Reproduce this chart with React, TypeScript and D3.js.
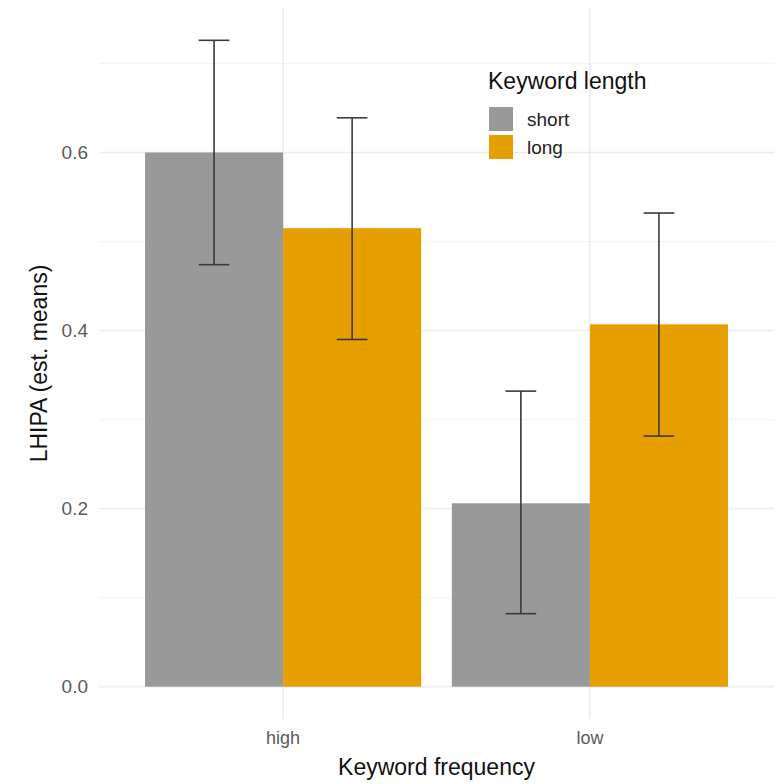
import React from "react";
import * as d3 from "d3";

const frequencies = ["high", "low"];
const lengths = ["short", "long"];
const meanShort = [0.6, 0.206];
const meanLong = [0.515, 0.407];
const lowerShort = [0.474, 0.082];
const upperShort = [0.726, 0.332];
const lowerLong = [0.39, 0.2815];
const upperLong = [0.639, 0.532];
const yTicks = [0.0, 0.2, 0.4, 0.6];
const yMinor = [0.1, 0.3, 0.5, 0.7];
const colors = ["#999999", "#E69F00"];

const W = 782;
const H = 784;
const panel = { left: 99, right: 774, top: 8, bottom: 719 };

export default function App() {
  const yMax = d3.max([...upperShort, ...upperLong]) as number;
  const expand = yMax * 0.05;
  const y = d3
    .scaleLinear()
    .domain([-expand, yMax + expand])
    .range([panel.bottom, panel.top]);

  const x = d3
    .scalePoint<string>()
    .domain(frequencies)
    .range([panel.left, panel.right])
    .padding(0.6);
  const unit = x.step();
  const barW = 0.45 * unit;
  const capW = 0.1 * unit;

  const series = lengths.map((len, si) => ({
    len,
    color: colors[si],
    means: si === 0 ? meanShort : meanLong,
    lower: si === 0 ? lowerShort : lowerLong,
    upper: si === 0 ? upperShort : upperLong,
    offset: si === 0 ? -barW : 0,
  }));

  const font = "Liberation Sans, Arial, Helvetica, sans-serif";

  return (
    <svg
      width={W}
      height={H}
      style={{ position: "absolute", left: 0, top: 0, background: "#fff" }}
      fontFamily={font}
    >
      {yMinor.map((t) => (
        <line
          key={"mi" + t}
          x1={panel.left}
          x2={panel.right}
          y1={y(t)}
          y2={y(t)}
          stroke="#f2f2f2"
          strokeWidth={1}
        />
      ))}
      {yTicks.map((t) => (
        <line
          key={"ma" + t}
          x1={panel.left}
          x2={panel.right}
          y1={y(t)}
          y2={y(t)}
          stroke="#ebebeb"
          strokeWidth={1.5}
        />
      ))}
      {frequencies.map((f) => (
        <line
          key={"vx" + f}
          x1={x(f)}
          x2={x(f)}
          y1={panel.top}
          y2={panel.bottom}
          stroke="#ebebeb"
          strokeWidth={1.5}
        />
      ))}
      {series.map((s) =>
        frequencies.map((f, i) => (
          <rect
            key={s.len + f}
            x={(x(f) as number) + s.offset}
            y={y(s.means[i])}
            width={barW}
            height={y(0) - y(s.means[i])}
            fill={s.color}
          />
        ))
      )}
      {series.map((s) =>
        frequencies.map((f, i) => {
          const cx = (x(f) as number) + s.offset + barW / 2;
          return (
            <g key={"e" + s.len + f} stroke="#3a3a3a" strokeWidth={1.6}>
              <line x1={cx} x2={cx} y1={y(s.lower[i])} y2={y(s.upper[i])} />
              <line
                x1={cx - capW / 2}
                x2={cx + capW / 2}
                y1={y(s.lower[i])}
                y2={y(s.lower[i])}
              />
              <line
                x1={cx - capW / 2}
                x2={cx + capW / 2}
                y1={y(s.upper[i])}
                y2={y(s.upper[i])}
              />
            </g>
          );
        })
      )}
      {yTicks.map((t) => (
        <text
          key={"yl" + t}
          x={88}
          y={y(t)}
          dy="0.35em"
          textAnchor="end"
          fontSize={19}
          fill="#5a5a5a"
        >
          {d3.format(".1f")(t)}
        </text>
      ))}
      {frequencies.map((f) => (
        <text
          key={"xl" + f}
          x={x(f)}
          y={744}
          textAnchor="middle"
          fontSize={18}
          fill="#5a5a5a"
        >
          {f}
        </text>
      ))}
      <text
        x={(panel.left + panel.right) / 2}
        y={775}
        textAnchor="middle"
        fontSize={23}
        fill="#111"
      >
        Keyword frequency
      </text>
      <text
        transform={`translate(47, ${(panel.top + panel.bottom) / 2}) rotate(-90)`}
        textAnchor="middle"
        fontSize={23}
        fill="#111"
      >
        LHIPA (est. means)
      </text>
      <g>
        <text x={488} y={89} fontSize={23} fill="#111">
          Keyword length
        </text>
        {series.map((s, i) => (
          <g key={"lg" + s.len} transform={`translate(489, ${107 + i * 28})`}>
            <rect width={24} height={24} fill={s.color} />
            <text x={38} y={12} dy="0.35em" fontSize={19} fill="#222">
              {s.len}
            </text>
          </g>
        ))}
      </g>
    </svg>
  );
}
